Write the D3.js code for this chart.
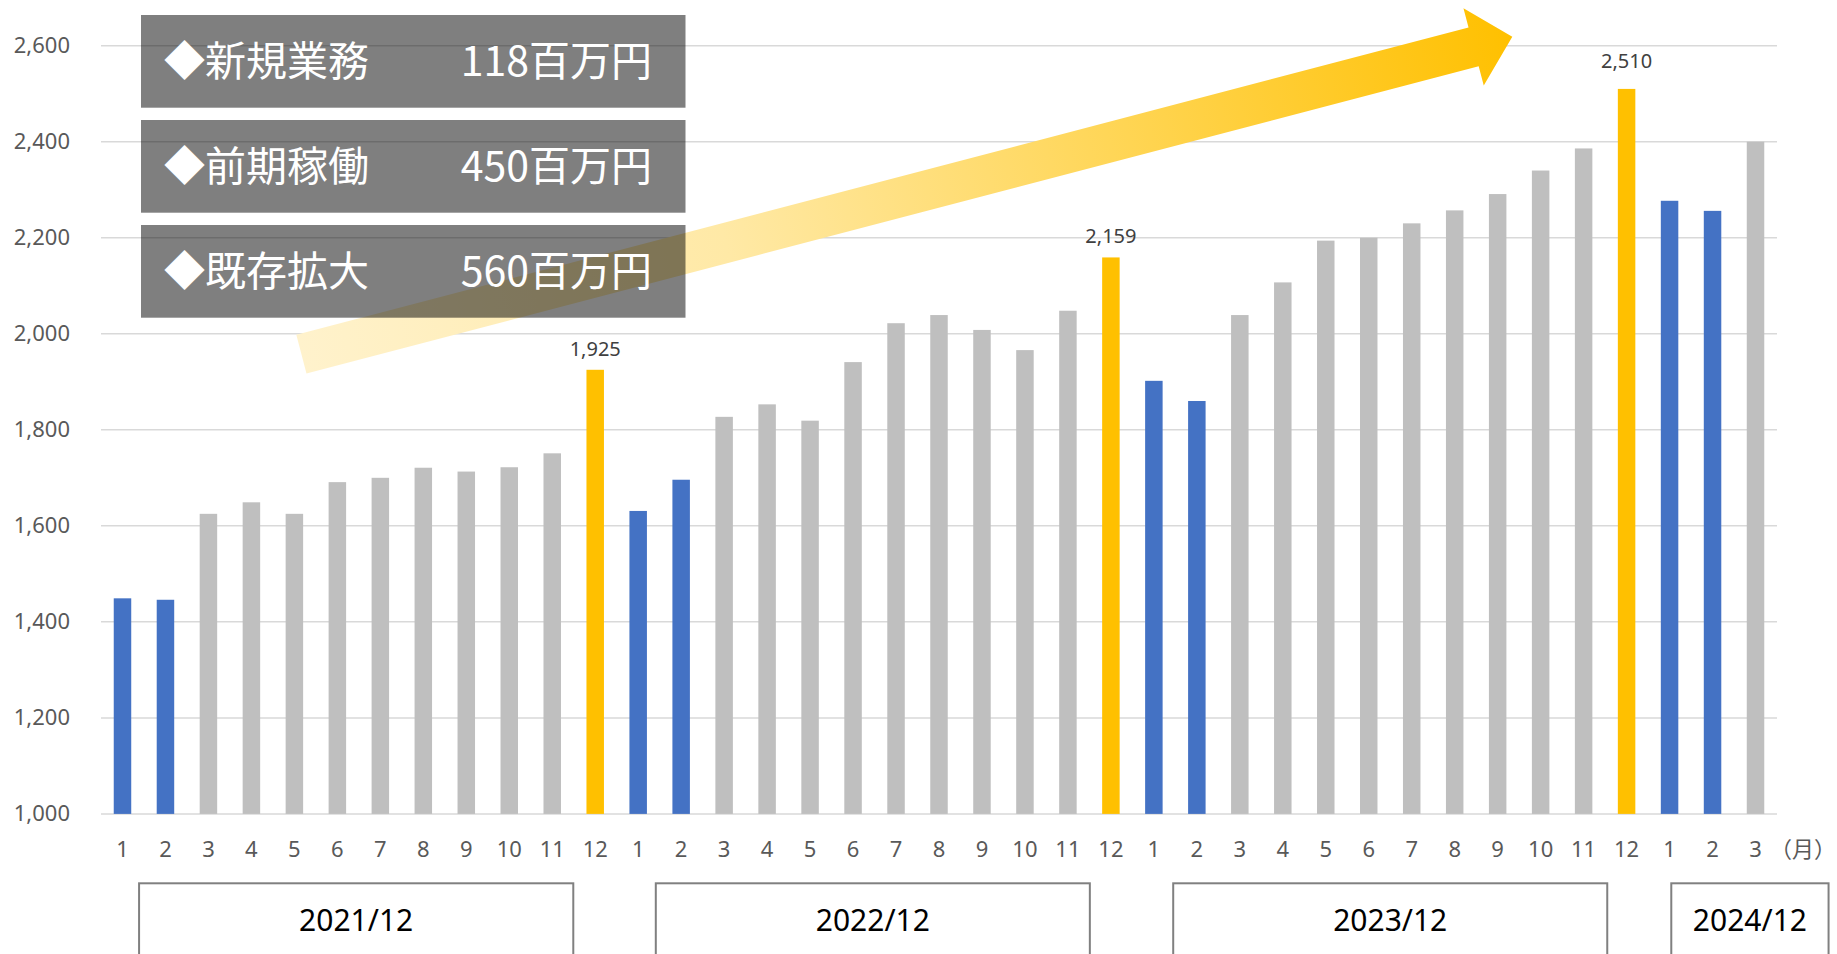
<!DOCTYPE html>
<html><head><meta charset="utf-8">
<script src="https://cdn.jsdelivr.net/npm/d3@7"></script>
<style>
html,body{margin:0;padding:0;background:#fff;}
svg{display:block;}
</style>
</head><body>
<svg id="chart" width="1837" height="954"></svg>
<script>
// ---------- data ----------
const months = ["1","2","3","4","5","6","7","8","9","10","11","12",
                "1","2","3","4","5","6","7","8","9","10","11","12",
                "1","2","3","4","5","6","7","8","9","10","11","12",
                "1","2","3"];
const values = [1449,1446,1625,1649,1625,1691,1700,1721,1713,1722,1751,1925,
                1631,1696,1827,1853,1819,1941,2022,2039,2008,1966,2048,2159,
                1902,1860,2039,2107,2194,2200,2230,2257,2291,2340,2386,2510,
                2277,2256,2400];
const yTicks = [1000,1200,1400,1600,1800,2000,2200,2400,2600];
const yearLabels = ["2021/12","2022/12","2023/12","2024/12"];
const boxTitles = ["◆新規業務","◆前期稼働","◆既存拡大"];
const boxAmounts = ["118百万円","450百万円","560百万円"];
const unitLabel = "（月）";

// ---------- layout ----------
const W = 1837, H = 954;
const plot = {left:101, right:1777, top:45.7, bottom:813.9};
const yearSpans = [[0.386,10.49],[12.41,22.51],[24.45,34.55],[36.04,39.7]]; // in category-index units
const labelNudge = {35:-7};
const colors = {blue:"#4472C4", gray:"#BFBFBF", gold:"#FFC000"};

const svg = d3.select("#chart");
const x = d3.scaleBand().domain(d3.range(values.length))
  .range([plot.left, plot.right]).paddingInner(0.593).paddingOuter(0.2965);
const y = d3.scaleLinear().domain([1000,2600]).range([plot.bottom, plot.top]);
const cx = i => x(0) + x.bandwidth()/2 + i*x.step();

// gridlines
svg.append("g").selectAll("line").data(yTicks).join("line")
  .attr("x1", plot.left).attr("x2", plot.right)
  .attr("y1", d=>y(d)).attr("y2", d=>y(d))
  .attr("stroke","#d9d9d9").attr("stroke-width",1.5);

// y axis labels
const yAxis = d3.axisLeft(y).tickValues(yTicks).tickFormat(d3.format(",")).tickSize(0).tickPadding(0);
const ga = svg.append("g").attr("transform",`translate(70,0)`).call(yAxis);
ga.select(".domain").remove();
ga.selectAll("text").attr("font-family","'Noto Sans', sans-serif").attr("font-size",22).attr("fill","#595959");

// bars
const colorOf = (m) => m==="12" ? colors.gold : (m==="1"||m==="2") ? colors.blue : colors.gray;
svg.append("g").selectAll("rect").data(values).join("rect")
  .attr("x",(d,i)=>x(i)).attr("width",x.bandwidth())
  .attr("y",d=>y(d)).attr("height",d=>y(1000)-y(d))
  .attr("fill",(d,i)=>colorOf(months[i]));

// data labels on December bars
svg.append("g").selectAll("text").data(values.map((v,i)=>({v,i})).filter(d=>months[d.i]==="12")).join("text")
  .attr("x",d=>cx(d.i)).attr("y",d=>y(d.v)-14+(labelNudge[d.i]||0))
  .attr("text-anchor","middle").attr("font-family","'Noto Sans', sans-serif")
  .attr("font-size",20).attr("fill","#404040").text(d=>d3.format(",")(d.v));

// x axis labels
const xAxis = d3.axisBottom(x).tickFormat(i=>months[i]).tickSize(0).tickPadding(0);
const gx = svg.append("g").attr("transform",`translate(0,841)`).call(xAxis);
gx.select(".domain").remove();
gx.selectAll("text").attr("dy","0.72em").attr("font-family","'Noto Sans', sans-serif").attr("font-size",22).attr("fill","#595959");
svg.append("text").attr("x",1836).attr("y",857).attr("text-anchor","end").attr("font-family","'Noto Sans CJK JP', sans-serif")
  .attr("font-size",22).attr("fill","#595959").text(unitLabel);

// year boxes
const yb = svg.append("g");
yearSpans.forEach((s,k)=>{
  const x0 = cx(s[0]), x1 = cx(s[1]);
  yb.append("rect").attr("x",x0).attr("y",883.3).attr("width",x1-x0).attr("height",90)
    .attr("fill","#fff").attr("stroke","#808080").attr("stroke-width",2);
  yb.append("text").attr("x",(x0+x1)/2).attr("y",931).attr("text-anchor","middle")
    .attr("font-family","'Noto Sans', sans-serif").attr("font-size",30).attr("fill","#000").text(yearLabels[k]);
});

// arrow
const tail = [301.4,354.2], tip = [1512.3,36.7];
const L = Math.hypot(tip[0]-tail[0], tip[1]-tail[1]);
const ang = Math.atan2(tip[1]-tail[1], tip[0]-tail[0])*180/Math.PI;
const defs = svg.append("defs");
const grad = defs.append("linearGradient").attr("id","ag").attr("gradientUnits","userSpaceOnUse")
  .attr("x1",0).attr("y1",0).attr("x2",L).attr("y2",0);
[[0,"#FFF2CC"],[0.35,"#FFE9A6"],[0.7,"#FFD44F"],[1,"#FFC000"]].forEach(s=>
  grad.append("stop").attr("offset",s[0]).attr("stop-color",s[1]));
const hb = L-40, sw = 20, hw = 40;
svg.append("path").attr("transform",`translate(${tail[0]},${tail[1]}) rotate(${ang})`)
  .attr("d",`M0,${-sw}L${hb},${-sw}L${hb},${-hw}L${L},0L${hb},${hw}L${hb},${sw}L0,${sw}Z`)
  .attr("fill","url(#ag)");

// translucent text boxes
const boxY = [15,120,225];
const bg = svg.append("g");
boxTitles.forEach((t,k)=>{
  bg.append("rect").attr("x",141).attr("y",boxY[k]).attr("width",544.5).attr("height",92.7)
    .attr("fill","rgba(0,0,0,0.5)");
  bg.append("text").attr("x",164).attr("y",boxY[k]+61).attr("font-family","'Noto Sans CJK JP', sans-serif")
    .attr("font-size",41).attr("fill","#fff").text(t);
  bg.append("text").attr("x",652).attr("y",boxY[k]+61).attr("text-anchor","end").attr("font-family","'Noto Sans CJK JP', sans-serif")
    .attr("font-size",41).attr("fill","#fff").text(boxAmounts[k]);
});
</script>
</body></html>
